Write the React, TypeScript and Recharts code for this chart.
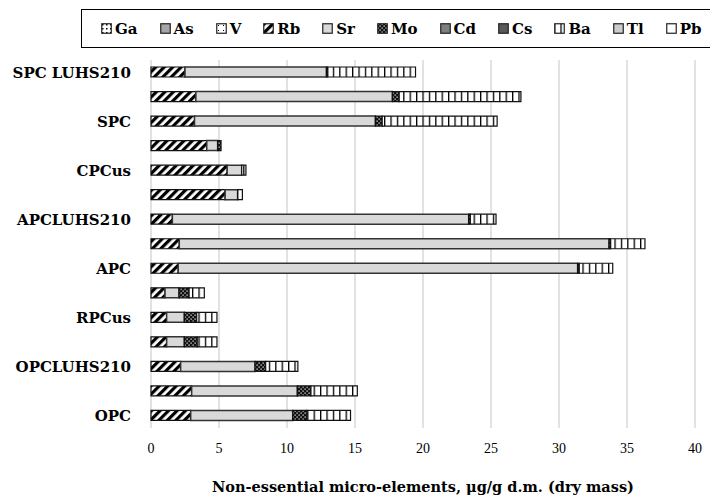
import { BarChart, Bar, XAxis, YAxis, CartesianGrid } from 'recharts';

// rows top to bottom; unlabeled rows are replicates
const rowLabels = ['SPC LUHS210', '', 'SPC', '', 'CPCus', '', 'APCLUHS210', '', 'APC', '', 'RPCus', '', 'OPCLUHS210', '', 'OPC'];

const elements = ['Ga', 'As', 'V', 'Rb', 'Sr', 'Mo', 'Cd', 'Cs', 'Ba', 'Tl', 'Pb'];

const Ga = [0, 0, 0, 0, 0, 0, 0, 0, 0, 0, 0, 0, 0, 0, 0];
const As = [0, 0, 0, 0, 0, 0, 0, 0, 0, 0, 0, 0, 0, 0, 0];
const V = [0, 0, 0, 0, 0, 0, 0, 0, 0, 0, 0, 0, 0, 0, 0];
const Rb = [2.5, 3.3, 3.2, 4.1, 5.6, 5.45, 1.57, 2.08, 2.0, 1.03, 1.15, 1.15, 2.18, 2.99, 2.92];
const Sr = [10.4, 14.45, 13.3, 0.8, 1.07, 0.92, 21.79, 31.6, 29.37, 1.03, 1.3, 1.3, 5.47, 7.77, 7.5];
const Mo = [0.1, 0.5, 0.5, 0.25, 0, 0, 0.12, 0.12, 0.12, 0.74, 0.91, 0.95, 0.78, 1.0, 1.03];
const Cd = [0, 0, 0, 0, 0, 0, 0, 0, 0, 0, 0, 0, 0, 0, 0];
const Cs = [0, 0, 0, 0, 0, 0, 0, 0, 0, 0, 0, 0, 0, 0, 0];
const Ba = [6.45, 8.95, 8.45, 0, 0.31, 0.35, 1.89, 2.52, 2.46, 1.12, 1.49, 1.45, 2.37, 3.41, 3.22];
const Tl = [0, 0, 0, 0, 0, 0, 0, 0, 0, 0, 0, 0, 0, 0, 0];
const Pb = [0, 0, 0, 0, 0, 0, 0, 0, 0, 0, 0, 0, 0, 0, 0];

const xTicks = [0, 5, 10, 15, 20, 25, 30, 35, 40];

const values: Record<string, number[]> = { Ga, As, V, Rb, Sr, Mo, Cd, Cs, Ba, Tl, Pb };

const data = rowLabels.map((_, i) => {
  const row: Record<string, number> = { row: i };
  elements.forEach(el => { row[el] = values[el][i]; });
  return row;
});

const fills: Record<string, string> = {
  Ga: 'url(#pGa)',
  As: '#a6a6a6',
  V: 'url(#pV)',
  Rb: 'url(#pRb)',
  Sr: '#d9d9d9',
  Mo: 'url(#pMo)',
  Cd: '#7f7f7f',
  Cs: '#595959',
  Ba: 'url(#pBa)',
  Tl: '#cccccc',
  Pb: '#ffffff',
};

const boldFont = '"DejaVu Serif", serif';
const tickFont = '"Liberation Serif", serif';

function Patterns() {
  return (
    <defs>
      <pattern id="pRb" width="6" height="6" patternUnits="userSpaceOnUse" patternTransform="rotate(45)">
        <rect width="6" height="6" fill="#fff" />
        <rect width="3.2" height="6" fill="#000" />
      </pattern>
      <pattern id="pMo" width="4" height="4" patternUnits="userSpaceOnUse">
        <rect width="4" height="4" fill="#111" />
        <rect x="0.5" y="0.5" width="1.2" height="1.2" fill="#fff" />
        <rect x="2.5" y="2.5" width="1.2" height="1.2" fill="#fff" />
      </pattern>
      <pattern id="pBa" width="6.4" height="6" patternUnits="userSpaceOnUse">
        <rect width="6.4" height="6" fill="#fff" />
        <rect x="0" width="1.3" height="6" fill="#000" />
      </pattern>
      <pattern id="pGa" width="4" height="4" patternUnits="userSpaceOnUse">
        <rect width="4" height="4" fill="#fff" />
        <rect x="1" y="1" width="1.5" height="1.5" fill="#000" />
      </pattern>
      <pattern id="pV" width="5" height="5" patternUnits="userSpaceOnUse">
        <rect width="5" height="5" fill="#fff" />
        <rect x="2" y="2" width="1" height="1" fill="#000" />
      </pattern>
    </defs>
  );
}

function LegendBox() {
  return (
    <div
      style={{
        position: 'absolute',
        left: 81,
        top: 9,
        width: 660,
        height: 39,
        border: '1.5px solid #000',
        display: 'flex',
        alignItems: 'center',
        paddingLeft: 19,
        boxSizing: 'border-box',
        fontFamily: boldFont,
        fontWeight: 'bold',
        fontSize: 15,
        color: '#000',
      }}
    >
      {elements.map(el => (
        <div key={el} style={{ display: 'flex', alignItems: 'center', marginRight: 22 }}>
          <svg width="11" height="11" style={{ marginRight: 3 }}>
            <rect x="0.75" y="0.75" width="9.5" height="9.5" fill={fills[el]} stroke="#222" strokeWidth="1.2" />
          </svg>
          <span>{el}</span>
        </div>
      ))}
    </div>
  );
}

export default function App() {
  return (
    <div style={{ position: 'absolute', left: 0, top: 0, width: 710, height: 500, overflow: 'hidden', background: '#fff' }}>
      <svg width="0" height="0" style={{ position: 'absolute' }}>
        <Patterns />
      </svg>
      <LegendBox />
      <BarChart
        width={710}
        height={500}
        data={data}
        layout="vertical"
        margin={{ top: 60, right: 15, bottom: 0, left: 0 }}
        barSize={10}
      >
        <CartesianGrid horizontal={false} stroke="#d9d9d9" strokeWidth={1.5} />
        <XAxis
          type="number"
          domain={[0, 40]}
          ticks={xTicks}
          axisLine={false}
          tickLine={false}
          tickSize={0}
          tickMargin={15}
          height={72}
          tick={{ fontFamily: tickFont, fontSize: 14, fill: '#000' }}
          label={{
            value: 'Non-essential micro-elements, μg/g d.m. (dry mass)',
            position: 'insideBottom',
            offset: 8,
            style: { fontFamily: boldFont, fontWeight: 'bold', fontSize: 14.5, fill: '#000' },
          }}
        />
        <YAxis
          type="category"
          dataKey="row"
          width={151}
          axisLine={false}
          tickLine={false}
          tickSize={0}
          tickMargin={20}
          interval={0}
          tickFormatter={(i: number) => rowLabels[i]}
          tick={{ fontFamily: boldFont, fontWeight: 'bold', fontSize: 15, fill: '#000' }}
        />
        {elements.map(el => (
          <Bar
            key={el}
            dataKey={el}
            stackId="a"
            fill={fills[el]}
            stroke={el === 'Sr' ? '#333' : '#111'}
            strokeWidth={el === 'Sr' ? 1.5 : 1.2}
            isAnimationActive={false}
          />
        ))}
      </BarChart>
    </div>
  );
}
